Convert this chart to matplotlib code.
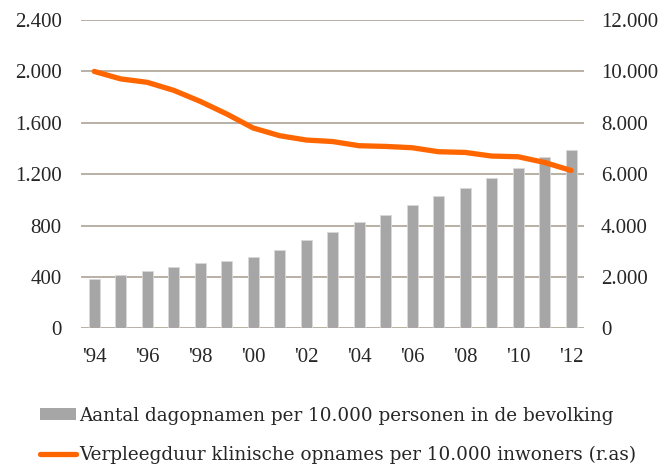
import matplotlib
matplotlib.use("Agg")
import matplotlib.pyplot as plt
import matplotlib.ticker as ticker
from matplotlib.patches import Patch
from matplotlib.lines import Line2D

plt.rcParams["font.family"] = ["Liberation Serif", "DejaVu Serif"]

years = list(range(1994, 2013))
dagopnamen = [382, 415, 447, 476, 507, 527, 553, 610, 686, 746,
              826, 881, 959, 1032, 1094, 1172, 1248, 1333, 1390]
verpleegduur = [10000, 9708, 9575, 9263, 8834, 8343, 7797, 7497, 7329, 7270,
                7107, 7080, 7029, 6873, 6846, 6705, 6678, 6456, 6144]
xtick_labels = ["'94", "'96", "'98", "'00", "'02", "'04", "'06", "'08", "'10", "'12"]

BAR_COLOR = "#a6a6a6"
LINE_COLOR = "#ff6600"
GRID_COLOR = "#b3aa9e"
TEXT_COLOR = "#262626"
FS = 15


def thousands(x, pos):
    return f"{int(x):,}".replace(",", ".")


fig = plt.figure(figsize=(6.64, 4.66), dpi=100)
ax = fig.add_axes([0.122, 0.2955, 0.758, 0.6615])
ax2 = ax.twinx()

x = list(range(len(years)))
ax.bar(x, dagopnamen, width=0.42, color=BAR_COLOR, edgecolor="#d9d9d9", linewidth=0.6, zorder=2)
ax2.plot(x, verpleegduur, color=LINE_COLOR, linewidth=3.8, solid_capstyle="round",
         solid_joinstyle="round", zorder=3)

ax.set_xlim(-0.5, len(years) - 0.5)
ax.set_ylim(0, 2400)
ax2.set_ylim(0, 12000)
ax.set_yticks(range(0, 2401, 400))
ax2.set_yticks(range(0, 12001, 2000))
ax.yaxis.set_major_formatter(ticker.FuncFormatter(thousands))
ax2.yaxis.set_major_formatter(ticker.FuncFormatter(thousands))
ax.set_xticks(x[::2])
ax.set_xticklabels(xtick_labels)

ax.grid(axis="y", color=GRID_COLOR, linewidth=1.3, zorder=0)
ax.set_axisbelow(True)
for a in (ax, ax2):
    for s in a.spines.values():
        s.set_visible(False)
ax.tick_params(axis="y", length=0, pad=14, labelsize=FS, labelcolor=TEXT_COLOR,
               labelfontfamily="Liberation Serif")
ax2.tick_params(axis="y", length=0, pad=12, labelsize=FS, labelcolor=TEXT_COLOR,
                labelfontfamily="Liberation Serif")
ax.tick_params(axis="x", length=0, pad=14, labelsize=FS, labelcolor=TEXT_COLOR,
               labelfontfamily="Liberation Serif")

# keep the bars above the grid and the line above the bars
ax.set_zorder(1)
ax2.set_zorder(2)
ax2.patch.set_visible(False)

handles = [
    Patch(facecolor=BAR_COLOR, edgecolor="none"),
    Line2D([0], [0], color=LINE_COLOR, linewidth=3.8, solid_capstyle="round"),
]
labels = [
    "Aantal dagopnamen per 10.000 personen in de bevolking",
    "Verpleegduur klinische opnames per 10.000 inwoners (r.as)",
]
fig.legend(handles, labels, loc="upper left", bbox_to_anchor=(0.06, 0.127),
           frameon=False, prop={"family": "DejaVu Serif", "size": 13.2},
           handlelength=1.95, handleheight=0.65, handletextpad=0.2,
           labelspacing=1.13, borderaxespad=0, borderpad=0,
           labelcolor=TEXT_COLOR)

fig.savefig("out.png", dpi=100)
